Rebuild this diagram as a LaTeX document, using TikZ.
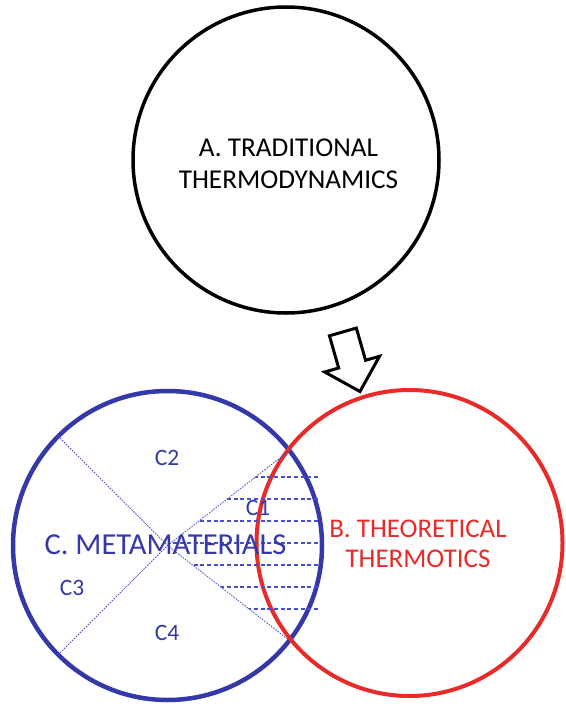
\documentclass[tikz,border=0pt]{standalone}
\usepackage{fontspec}
\setmainfont{Carlito}
\usetikzlibrary{shapes.arrows, positioning}
\definecolor{metablue}{RGB}{52,56,168}
\definecolor{hatchblue}{RGB}{72,78,205}
\definecolor{thermored}{RGB}{232,42,40}

\begin{document}
\begin{tikzpicture}[x=1pt, y=-1pt,
    ring/.style={circle, draw, line width=4pt, inner sep=0pt, outer sep=0pt},
    title/.style={font=\fontsize{27.2}{32}\selectfont, align=center, inner sep=0pt},
    part/.style={font=\fontsize{23.5}{28}\selectfont, text=metablue, inner sep=0pt},
    split/.style={draw=hatchblue, line width=0.8pt, dash pattern=on 1.6pt off 1.2pt},
    hatch/.style={draw=hatchblue, line width=1.1pt, dash pattern=on 4pt off 2.7pt},
    flowarrow/.style={single arrow, draw, line width=3pt, inner sep=12.5pt,
                      minimum height=62pt, single arrow head extend=14.5pt},
]
\useasboundingbox (0,0) rectangle (565,704);

\node[ring, line width=3.5pt, minimum size=306pt] (trad) at (286,160) {};
\node[ring, draw=metablue, line width=4.5pt, minimum size=309pt] (meta) at (167.5,545.5) {};
\node[ring, draw=thermored, minimum size=306pt] (theo) at (409.5,543) {};

% lens corners where the two lower circles cross
\coordinate (lensT) at (289.5,450.5);
\coordinate (lensB) at (289.5,640.5);

% quarters of C
\draw[split] (meta.135) -- (meta.center) -- (lensT);
\draw[split] (meta.225) -- (meta.center) -- (lensB);

% hatching of C1
\begin{scope}
  \clip (meta.center) -- (lensT) -- (318,450.5) -- (318,640.5) -- (lensB) -- cycle;
  \foreach \y in {477,499,...,610}
    \draw[hatch] (160,\y) -- (318,\y);
\end{scope}

\node[title] (tradtext) at (288.5,164) {A. TRADITIONAL\\THERMODYNAMICS};
\node[title, text=thermored, font=\fontsize{27}{30}\selectfont] (theotext) at (418,543.5) {B. THEORETICAL\\THERMOTICS};
\node[title, text=metablue, font=\fontsize{30.5}{36}\selectfont] (metatext) at (165.5,544.5) {C. METAMATERIALS};

\node[part] (c1) at (258,508) {C1};
\node[part] (c2) at (167,458) {C2};
\node[part] (c3) at (72,588) {C3};
\node[part] (c4) at (167,633) {C4};

\node[flowarrow, rotate=-74] (flow) at (349.5,355) {};

\end{tikzpicture}
\end{document}
